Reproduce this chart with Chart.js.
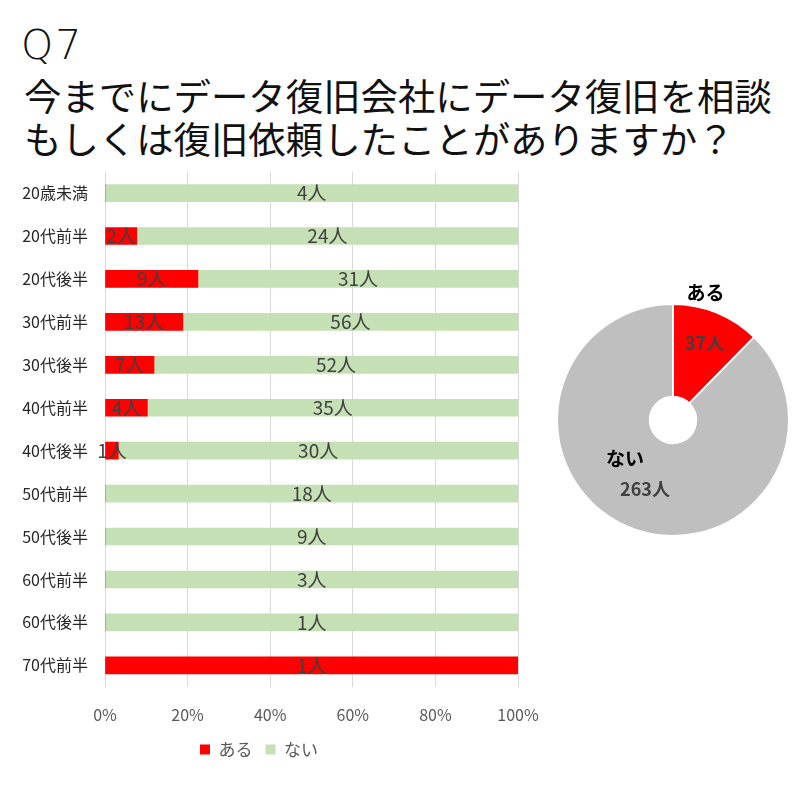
<!DOCTYPE html>
<html lang="ja">
<head>
<meta charset="UTF-8">
<title>Q7 データ復旧の相談・依頼経験</title>
<script src="https://cdn.jsdelivr.net/npm/chart.js@4.4.0/dist/chart.umd.min.js"></script>
<style>
  body { margin: 0; background: #fff; width: 800px; height: 800px; position: relative; overflow: hidden;
         font-family: "Noto Sans CJK JP", "Noto Sans", sans-serif; }
  #q { position: absolute; left: 21px; top: 20px; font-family: "DejaVu Sans", sans-serif; font-size: 41px; font-weight: 200; letter-spacing: 2px; color: #111; line-height: 50px; }
  #title { position: absolute; left: 24px; top: 74px; font-size: 37.4px; font-weight: 400; color: #111; line-height: 43px; white-space: nowrap; }
  #barBox { position: absolute; left: 0; top: 160px; width: 545px; height: 612px; }
  #pieBox { position: absolute; left: 540px; top: 260px; width: 266px; height: 280px; }
</style>
</head>
<body>
<div id="q">Q7</div>
<div id="title">今までにデータ復旧会社にデータ復旧を相談<br>もしくは復旧依頼したことがありますか？</div>
<div id="barBox"><canvas id="barChart"></canvas></div>
<div id="pieBox"><canvas id="pieChart"></canvas></div>

<script>
// データ
const categories = ['20歳未満', '20代前半', '20代後半', '30代前半', '30代後半', '40代前半',
                    '40代後半', '50代前半', '50代後半', '60代前半', '60代後半', '70代前半'];
const seriesNames = ['ある', 'ない'];
const aruCounts = [0, 2, 9, 13, 7, 4, 1, 0, 0, 0, 0, 1];
const naiCounts = [4, 24, 31, 56, 52, 35, 30, 18, 9, 3, 1, 0];
const xTicks = [0, 20, 40, 60, 80, 100];
const pieLabels = ['ある', 'ない'];
const pieCounts = [37, 263];

const RED = '#ff0000';
const GREEN = '#c5e0b4';
const GRAY = '#bfbfbf';
const FONT = '"Noto Sans CJK JP", "Noto Sans", sans-serif';

// 人数 → 割合(%)
const totals = categories.map((c, i) => aruCounts[i] + naiCounts[i]);
const aruPct = aruCounts.map((v, i) => v / totals[i] * 100);
const naiPct = naiCounts.map((v, i) => v / totals[i] * 100);
const countsBySeries = [aruCounts, naiCounts];

// 棒の中央に「N人」
const barLabels = {
  id: 'barLabels',
  afterDatasetsDraw(chart) {
    const ctx = chart.ctx;
    ctx.save();
    ctx.font = '19px ' + FONT;
    ctx.fillStyle = '#404040';
    ctx.textAlign = 'center';
    ctx.textBaseline = 'middle';
    chart.data.datasets.forEach((ds, d) => {
      chart.getDatasetMeta(d).data.forEach((bar, i) => {
        const n = countsBySeries[d][i];
        if (!n) return;
        ctx.fillText(n + '人', (bar.x + bar.base) / 2, bar.y);
      });
    });
    ctx.restore();
  }
};

new Chart(document.getElementById('barChart'), {
  type: 'bar',
  data: {
    labels: categories,
    datasets: [
      { label: seriesNames[0], data: aruPct, backgroundColor: RED, barThickness: 17 },
      { label: seriesNames[1], data: naiPct, backgroundColor: GREEN, barThickness: 17 }
    ]
  },
  options: {
    indexAxis: 'y',
    responsive: true,
    maintainAspectRatio: false,
    animation: false,
    layout: { padding: { top: 0, right: 27, bottom: 4, left: 0 } },
    plugins: {
      tooltip: { enabled: false },
      legend: {
        position: 'bottom',
        labels: { boxWidth: 10, boxHeight: 10, padding: 13, color: '#595959',
                  font: { size: 17, family: FONT } }
      }
    },
    scales: {
      x: {
        stacked: true, min: 0, max: 100,
        afterBuildTicks: s => { s.ticks = xTicks.map(v => ({ value: v })); },
        ticks: { callback: v => v + '%', color: '#595959', padding: 3,
                 font: { size: 16, family: FONT } },
        grid: { color: '#d9d9d9', drawTicks: true, tickLength: 16, tickColor: 'rgba(0,0,0,0)' },
        border: { display: false }
      },
      y: {
        stacked: true,
        afterFit: s => { s.width = 105; },
        ticks: { color: '#262626', padding: 2, font: { size: 16, family: FONT } },
        grid: { display: true, drawOnChartArea: false, drawTicks: true, tickLength: 15,
                color: 'rgba(0,0,0,0)', tickColor: 'rgba(0,0,0,0)' },
        border: { display: false }
      }
    }
  },
  plugins: [barLabels]
});

// 円グラフのラベル
const pieText = [
  { frac: 0.72, nameDx: 1, nameDy: -50 },
  { frac: 0.64, nameDx: -20, nameDy: -30 }
];
const pieLabelPlugin = {
  id: 'pieLabels',
  afterDatasetsDraw(chart) {
    const ctx = chart.ctx;
    ctx.save();
    ctx.textAlign = 'center';
    ctx.textBaseline = 'middle';
    chart.getDatasetMeta(0).data.forEach((arc, i) => {
      const mid = (arc.startAngle + arc.endAngle) / 2;
      const r = arc.outerRadius * pieText[i].frac;
      const x = arc.x + Math.cos(mid) * r;
      const y = arc.y + Math.sin(mid) * r;
      ctx.font = 'bold 18px ' + FONT;
      ctx.fillStyle = '#404040';
      ctx.fillText(pieCounts[i] + '人', x, y);
      ctx.font = 'bold 19px ' + FONT;
      ctx.fillStyle = '#000';
      ctx.fillText(pieLabels[i], x + pieText[i].nameDx, y + pieText[i].nameDy);
    });
    ctx.restore();
  }
};

new Chart(document.getElementById('pieChart'), {
  type: 'doughnut',
  data: {
    labels: pieLabels,
    datasets: [{ data: pieCounts, backgroundColor: [RED, GRAY], borderColor: '#fff', borderWidth: 2 }]
  },
  options: {
    responsive: true,
    maintainAspectRatio: false,
    animation: false,
    cutout: '20%',
    layout: { padding: { top: 43, left: 16, right: 16, bottom: 3 } },
    plugins: { legend: { display: false }, tooltip: { enabled: false } }
  },
  plugins: [pieLabelPlugin]
});
</script>
</body>
</html>
